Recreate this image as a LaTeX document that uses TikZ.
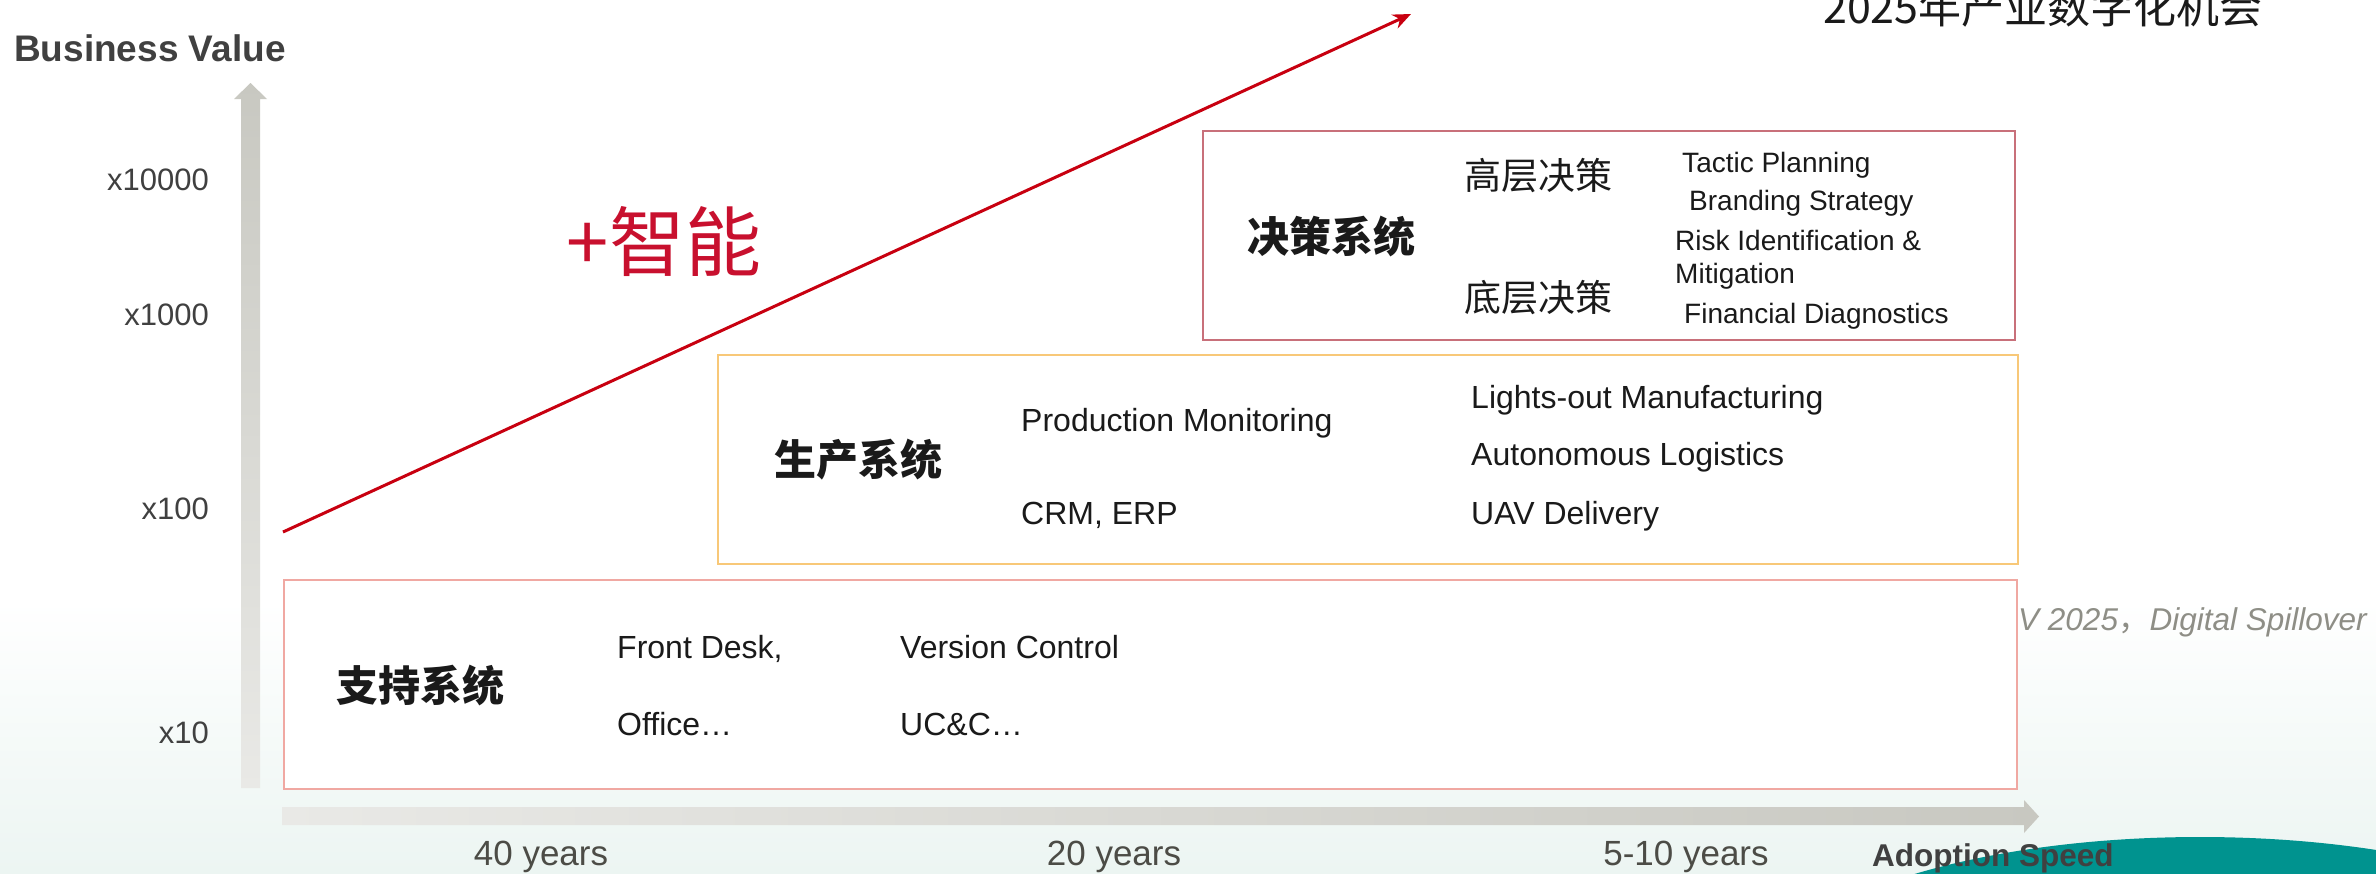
\documentclass[tikz,border=0pt]{standalone}
\usepackage{fontspec}
\setmainfont{Liberation Sans}
\newfontfamily\cjk{Noto Sans CJK SC}
\usetikzlibrary{arrows.meta}
\definecolor{axisdark}{HTML}{C8C8C1}
\definecolor{axislight}{HTML}{E9E9E6}
\definecolor{labelgray}{HTML}{404040}
\definecolor{yeargray}{HTML}{4C4C46}
\definecolor{textdark}{HTML}{1A1A1A}
\definecolor{arrowred}{HTML}{C80010}
\definecolor{aired}{HTML}{C8102E}
\definecolor{decborder}{HTML}{C8707A}
\definecolor{prodborder}{HTML}{F8C878}
\definecolor{supborder}{HTML}{F0A8A2}
\definecolor{mint}{HTML}{ECF5F2}
\definecolor{wave}{HTML}{00938F}
\definecolor{notegray}{HTML}{8E8E86}
\begin{document}
\begin{tikzpicture}[x=1pt,y=-1pt,
  every node/.style={inner sep=0pt},
  sysbox/.style={draw, line width=2pt, fill=white, anchor=north west},
  axlabel/.style={text=labelgray, font=\fontsize{31}{33}\selectfont},
  yearlabel/.style={text=yeargray, font=\fontsize{35}{37}\selectfont},
  axtitle/.style={text=labelgray, font=\bfseries\fontsize{37}{39}\selectfont},
  item/.style={text=textdark, font=\fontsize{32}{34}\selectfont, anchor=base west},
  smallitem/.style={text=textdark, font=\fontsize{28}{33}\selectfont, anchor=base west, align=left},
  syshead/.style={text=textdark, font=\cjk\bfseries\fontsize{42}{44}\selectfont},
  subhead/.style={text=textdark, font=\cjk\fontsize{37}{39}\selectfont},
  redarrow/.style={draw=arrowred, line width=3pt, -{Stealth[length=18pt,width=15pt]}}
]
\clip (0,0) rectangle (2376,873);
\useasboundingbox (0,0) rectangle (2376,873);
% background
\fill[white] (0,0) rectangle (2376,873);
\shade[top color=white, bottom color=mint] (0,600) rectangle (2376,873);
\fill[wave] (2200,1000) ellipse [x radius=450, y radius=163];
% axes
\shade[bottom color=axislight, top color=axisdark]
  (241,788) -- (241,99) -- (234,99) -- (250.5,83) -- (267,99) -- (260,99) -- (260,788) -- cycle;
\shade[left color=axislight, right color=axisdark]
  (282,807) -- (2024,807) -- (2024,800) -- (2039,816.5) -- (2024,833) -- (2024,825) -- (282,825) -- cycle;
% axis labels
\node[axtitle, anchor=base west] (bv) at (14,61) {Business Value};
\node[axlabel, anchor=east] (y4) at (209,180) {x10000};
\node[axlabel, anchor=east] (y3) at (209,315) {x1000};
\node[axlabel, anchor=east] (y2) at (209,509) {x100};
\node[axlabel, anchor=east] (y1) at (209,733) {x10};
\node[yearlabel, anchor=base] (t40) at (541,865) {40 years};
\node[yearlabel, anchor=base] (t20) at (1114,865) {20 years};
\node[yearlabel, anchor=base] (t5) at (1686,865) {5-10 years};
\node[axtitle, font=\bfseries\fontsize{31.5}{33}\selectfont, anchor=base west] (as) at (1872,866) {Adoption Speed};
% side note (partly hidden)
\node[text=notegray, font=\itshape\fontsize{31.5}{33}\selectfont, anchor=base west] (note) at (2018,630) {V 2025{\cjk\upshape ，}Digital Spillover};
% title (cut off at the top, as in the reference)
\node[text=textdark, font=\cjk\fontsize{43}{45}\selectfont, anchor=base west] (title) at (1823,23) {2025年产业数字化机会};
% system boxes
\node[sysbox, draw=supborder, minimum width=1733, minimum height=209] (sup) at (283,579) {};
\node[sysbox, draw=prodborder, minimum width=1300, minimum height=209] (prod) at (717,354) {};
\node[sysbox, draw=decborder, minimum width=812, minimum height=209] (dec) at (1202,130) {};
% decision system
\node[syshead] (decT) at (1331,236) {决策系统};
\node[subhead] (hi) at (1538,176) {高层决策};
\node[subhead] (lo) at (1538,298) {底层决策};
\node[smallitem] (d1) at (1682,172) {Tactic Planning};
\node[smallitem] (d2) at (1689,210) {Branding Strategy};
\node[smallitem] (d3) at (1675,250) {Risk Identification \&};
\node[smallitem] (d4) at (1675,283) {Mitigation};
\node[smallitem] (d5) at (1684,323) {Financial Diagnostics};
% production system
\node[syshead] (prodT) at (858,460) {生产系统};
\node[item] (p1) at (1021,431) {Production Monitoring};
\node[item] (p2) at (1021,524) {CRM, ERP};
\node[item] (p3) at (1471,408) {Lights-out Manufacturing};
\node[item] (p4) at (1471,465) {Autonomous Logistics};
\node[item] (p5) at (1471,524) {UAV Delivery};
% support system
\node[syshead] (supT) at (420,685) {支持系统};
\node[item] (s1) at (617,658) {Front Desk,};
\node[item] (s2) at (617,735) {Office…};
\node[item] (s3) at (900,658) {Version Control};
\node[item] (s4) at (900,735) {UC\&C…};
% intelligence arrow
\node[text=aired, font=\cjk\fontsize{76}{78}\selectfont] (ai) at (664,242) {+智能};
\coordinate (rs) at (283,532);
\coordinate (re) at (1411,14);
\draw[redarrow] (rs) -- (re);
\end{tikzpicture}
\end{document}
